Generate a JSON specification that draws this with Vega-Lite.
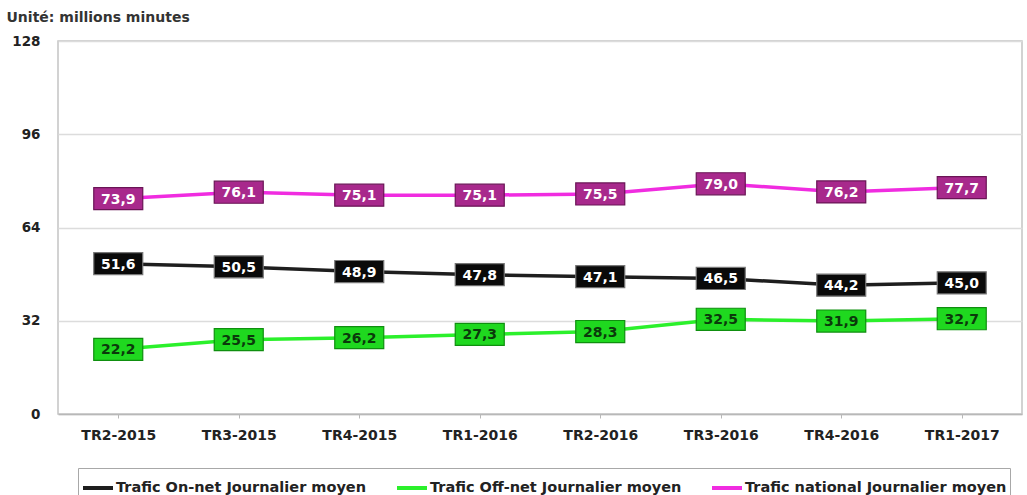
{
  "$schema": "https://vega.github.io/schema/vega-lite/v6.json",
  "autosize": {"type": "none"},
  "padding": {"left": 58, "top": 41, "right": 5, "bottom": 81},
  "width": 964,
  "height": 373,
  "config": {
    "locale": {"number": {"decimal": ",", "thousands": " ", "grouping": [3], "currency": ["", " €"]}},
    "view": {"stroke": "#c4c4c4", "strokeWidth": 1.5},
    "font": "DejaVu Sans"
  },
  "data": {
    "values": [
      {"q": "TR2-2015", "s": "Trafic On-net Journalier moyen", "v": 51.6},
      {"q": "TR3-2015", "s": "Trafic On-net Journalier moyen", "v": 50.5},
      {"q": "TR4-2015", "s": "Trafic On-net Journalier moyen", "v": 48.9},
      {"q": "TR1-2016", "s": "Trafic On-net Journalier moyen", "v": 47.8},
      {"q": "TR2-2016", "s": "Trafic On-net Journalier moyen", "v": 47.1},
      {"q": "TR3-2016", "s": "Trafic On-net Journalier moyen", "v": 46.5},
      {"q": "TR4-2016", "s": "Trafic On-net Journalier moyen", "v": 44.2},
      {"q": "TR1-2017", "s": "Trafic On-net Journalier moyen", "v": 45.0},
      {"q": "TR2-2015", "s": "Trafic Off-net Journalier moyen", "v": 22.2},
      {"q": "TR3-2015", "s": "Trafic Off-net Journalier moyen", "v": 25.5},
      {"q": "TR4-2015", "s": "Trafic Off-net Journalier moyen", "v": 26.2},
      {"q": "TR1-2016", "s": "Trafic Off-net Journalier moyen", "v": 27.3},
      {"q": "TR2-2016", "s": "Trafic Off-net Journalier moyen", "v": 28.3},
      {"q": "TR3-2016", "s": "Trafic Off-net Journalier moyen", "v": 32.5},
      {"q": "TR4-2016", "s": "Trafic Off-net Journalier moyen", "v": 31.9},
      {"q": "TR1-2017", "s": "Trafic Off-net Journalier moyen", "v": 32.7},
      {"q": "TR2-2015", "s": "Trafic national Journalier moyen", "v": 73.9},
      {"q": "TR3-2015", "s": "Trafic national Journalier moyen", "v": 76.1},
      {"q": "TR4-2015", "s": "Trafic national Journalier moyen", "v": 75.1},
      {"q": "TR1-2016", "s": "Trafic national Journalier moyen", "v": 75.1},
      {"q": "TR2-2016", "s": "Trafic national Journalier moyen", "v": 75.5},
      {"q": "TR3-2016", "s": "Trafic national Journalier moyen", "v": 79.0},
      {"q": "TR4-2016", "s": "Trafic national Journalier moyen", "v": 76.2},
      {"q": "TR1-2017", "s": "Trafic national Journalier moyen", "v": 77.7}
    ]
  },
  "encoding": {
    "x": {
      "field": "q", "type": "nominal", "sort": null,
      "scale": {"paddingInner": 0, "paddingOuter": 0},
      "axis": {
        "title": null, "labelAngle": 0, "labelFont": "DejaVu Sans", "labelFontWeight": "bold",
        "labelFontSize": 14, "labelColor": "#222222", "domainColor": "#b8b8b8", "domainWidth": 1.5,
        "tickColor": "#b8b8b8", "tickSize": 4, "bandPosition": 0, "labelPadding": 10, "grid": false
      }
    },
    "y": {
      "field": "v", "type": "quantitative",
      "scale": {"domain": [0, 128], "nice": false},
      "axis": {
        "values": [0, 32, 64, 96, 128], "title": "Unité: millions minutes",
        "titleAngle": 0, "titleAlign": "left", "titleBaseline": "middle",
        "titleX": -52, "titleY": -24, "titleFont": "DejaVu Sans", "titleFontSize": 14,
        "titleFontWeight": "bold", "titleColor": "#333333",
        "labelFont": "DejaVu Sans", "labelFontWeight": "bold", "labelFontSize": 13.5,
        "labelColor": "#222222", "ticks": false, "domain": false, "labelPadding": 18,
        "gridColor": "#dcdcdc", "gridWidth": 1.5
      }
    }
  },
  "resolve": {"scale": {"color": "independent", "fill": "independent", "stroke": "independent"}},
  "layer": [
    {
      "mark": {"type": "line", "strokeWidth": 3.5},
      "encoding": {
        "color": {
          "field": "s", "type": "nominal",
          "scale": {
            "domain": ["Trafic On-net Journalier moyen", "Trafic Off-net Journalier moyen", "Trafic national Journalier moyen"],
            "range": ["#1e1e1e", "#2bf02b", "#f02ce0"]
          },
          "legend": {
            "title": null, "orient": "none", "direction": "horizontal",
            "legendX": 20, "legendY": 427, "padding": 3,
            "strokeColor": "#a8a8a8",
            "symbolType": "stroke", "symbolSize": 900, "symbolStrokeWidth": 4,
            "labelFont": "DejaVu Sans", "labelFontWeight": "bold", "labelFontSize": 14.5,
            "labelColor": "#222222", "labelOffset": 1, "columnPadding": 22, "labelLimit": 400
          }
        }
      }
    },
    {
      "mark": {
        "type": "point", "filled": true, "opacity": 1, "strokeWidth": 1.2,
        "shape": "M-1,-0.45H1V0.45H-1Z", "size": 2400
      },
      "encoding": {
        "fill": {
          "field": "s", "type": "nominal", "legend": null,
          "scale": {
            "domain": ["Trafic On-net Journalier moyen", "Trafic Off-net Journalier moyen", "Trafic national Journalier moyen"],
            "range": ["#0a0a0a", "#1fd81f", "#a8298c"]
          }
        },
        "stroke": {
          "field": "s", "type": "nominal", "legend": null,
          "scale": {
            "domain": ["Trafic On-net Journalier moyen", "Trafic Off-net Journalier moyen", "Trafic national Journalier moyen"],
            "range": ["#777777", "#0f8f0f", "#6a1456"]
          }
        }
      }
    },
    {
      "mark": {"type": "text", "font": "DejaVu Sans", "fontWeight": "bold", "fontSize": 14, "baseline": "middle", "dy": 1},
      "encoding": {
        "text": {"field": "v", "type": "quantitative", "format": ".1f"},
        "color": {
          "field": "s", "type": "nominal", "legend": null,
          "scale": {
            "domain": ["Trafic On-net Journalier moyen", "Trafic Off-net Journalier moyen", "Trafic national Journalier moyen"],
            "range": ["#ffffff", "#0b3a0b", "#ffffff"]
          }
        }
      }
    }
  ]
}
